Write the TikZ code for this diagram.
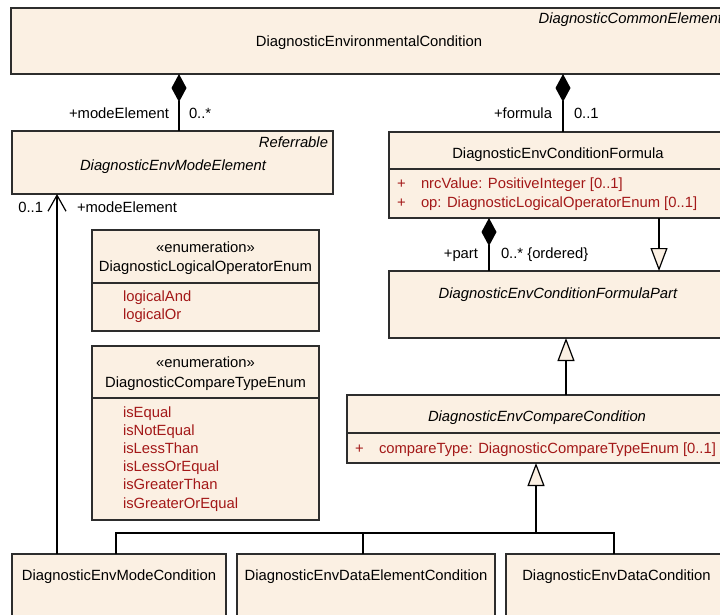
\documentclass[tikz,border=0pt]{standalone}
\usepackage{fontspec}
\setmainfont{Liberation Sans}
\usetikzlibrary{arrows.meta}
\definecolor{umlfill}{RGB}{251,240,227}
\definecolor{umlline}{RGB}{45,45,45}
\definecolor{attrred}{RGB}{163,24,24}
\tikzset{
  umlbox/.style={draw=umlline, fill=umlfill, line width=1.3pt, inner sep=0pt, outer sep=0pt, anchor=north west},
  sepline/.style={draw=umlline, line width=1.3pt},
  lbl/.style={font=\fontsize{14.8}{18}\selectfont, inner sep=0pt, outer sep=0pt, text=black, anchor=base},
  lblw/.style={lbl, anchor=base west},
  lble/.style={lbl, anchor=base east},
  attr/.style={lblw, text=attrred},
  conn/.style={draw=black, line width=1.2pt},
  compo/.style={conn, {Diamond[length=28pt,width=15pt,fill=black]}-},
  assoc/.style={conn, -{Straight Barb[length=16pt,width=18pt]}},
  gener/.style={conn, -{Triangle[length=23pt,width=17pt,fill=umlfill]}},
}
\begin{document}
\begin{tikzpicture}[x=1pt,y=-1pt]
\useasboundingbox (0,0) rectangle (720,615);
\clip (0,0) rectangle (720,615);
% boxes
\node[umlbox, minimum width=716pt, minimum height=66pt] (envcond) at (11,8) {};
\node[umlbox, minimum width=321pt, minimum height=63pt] (modeelem) at (12,131) {};
\node[umlbox, minimum width=227pt, minimum height=101pt] (enumlog) at (92,230) {};
\node[umlbox, minimum width=227pt, minimum height=174pt] (enumcmp) at (92,346) {};
\node[umlbox, minimum width=338pt, minimum height=86pt] (formula) at (389,132) {};
\node[umlbox, minimum width=338pt, minimum height=67pt] (fpart) at (389,271) {};
\node[umlbox, minimum width=380pt, minimum height=68pt] (cmpcond) at (347,395) {};
\node[umlbox, minimum width=214pt, minimum height=75pt] (modecond) at (12,554) {};
\node[umlbox, minimum width=258pt, minimum height=75pt] (dataelem) at (237,554) {};
\node[umlbox, minimum width=221pt, minimum height=75pt] (datacond) at (506,554) {};
% separators
\draw[sepline] ([yshift=-53pt]enumlog.north west) -- ([yshift=-53pt]enumlog.north east);
\draw[sepline] ([yshift=-52pt]enumcmp.north west) -- ([yshift=-52pt]enumcmp.north east);
\draw[sepline] ([yshift=-37pt]formula.north west) -- ([yshift=-37pt]formula.north east);
\draw[sepline] ([yshift=-38pt]cmpcond.north west) -- ([yshift=-38pt]cmpcond.north east);
% texts
\node[lble, font=\fontsize{14.8}{18}\selectfont\itshape] (envst) at (722,24) {DiagnosticCommonElement};
\node[lbl] (envname) at (369,47) {DiagnosticEnvironmentalCondition};
\node[lble, font=\fontsize{14.8}{18}\selectfont\itshape] (modest) at (328,148) {Referrable};
\node[lbl, font=\fontsize{14.8}{18}\selectfont\itshape] (modename) at (173,171) {DiagnosticEnvModeElement};
\node[lbl] (logst) at (205.5,252) {«enumeration»};
\node[lbl] (logname) at (205.5,271) {DiagnosticLogicalOperatorEnum};
\node[attr] (logA) at (123,301) {logicalAnd};
\node[attr] (logB) at (123,319) {logicalOr};
\node[lbl] (cmpst) at (205.5,367) {«enumeration»};
\node[lbl] (cmpname) at (205.5,387) {DiagnosticCompareTypeEnum};
\node[attr] (cmpA) at (123,417) {isEqual};
\node[attr] (cmpB) at (123,435.2) {isNotEqual};
\node[attr] (cmpC) at (123,453.4) {isLessThan};
\node[attr] (cmpD) at (123,471.6) {isLessOrEqual};
\node[attr] (cmpE) at (123,489.8) {isGreaterThan};
\node[attr] (cmpF) at (123,508) {isGreaterOrEqual};
\node[lbl] (formname) at (558,158) {DiagnosticEnvConditionFormula};
\node[attr] (formp1) at (397,188) {+};
\node[attr] (forma1) at (421,188) {nrcValue: PositiveInteger [0..1]};
\node[attr] (formp2) at (397,207) {+};
\node[attr] (forma2) at (421,207) {op: DiagnosticLogicalOperatorEnum [0..1]};
\node[lbl, font=\fontsize{14.8}{18}\selectfont\itshape] (fpartname) at (558,298) {DiagnosticEnvConditionFormulaPart};
\node[lbl, font=\fontsize{14.8}{18}\selectfont\itshape] (cmpcname) at (537,421) {DiagnosticEnvCompareCondition};
\node[attr] (cmpcp) at (355,453) {+};
\node[attr] (cmpca) at (379,453) {compareType: DiagnosticCompareTypeEnum [0..1]};
\node[lbl] (modecname) at (119,580) {DiagnosticEnvModeCondition};
\node[lbl] (dataename) at (366,580) {DiagnosticEnvDataElementCondition};
\node[lbl] (datacname) at (616.5,580) {DiagnosticEnvDataCondition};
% connector labels
\node[lble] (l1a) at (169,119) {+modeElement};
\node[lblw] (l1b) at (189,119) {0..*};
\node[lble] (l2a) at (552,119) {+formula};
\node[lblw] (l2b) at (574,119) {0..1};
\node[lble] (l3a) at (43,212) {0..1};
\node[lblw] (l3b) at (77,212) {+modeElement};
\node[lble] (l4a) at (478,258) {+part};
\node[lblw] (l4b) at (501,258) {0..* \{ordered\}};
% connectors
\draw[compo] ([xshift=-190pt]envcond.south) -- ([xshift=6.5pt]modeelem.north);
\draw[compo] ([xshift=194pt]envcond.south) -- ([xshift=5pt]formula.north);
\draw[assoc] ([xshift=-62pt]modecond.north) -- ([xshift=-115.5pt]modeelem.south);
\draw[compo] ([xshift=-69pt]formula.south) -- ([xshift=-69pt]fpart.north);
\draw[gener] ([xshift=101pt]formula.south) -- ([xshift=101pt]fpart.north);
\draw[gener] ([xshift=29pt]cmpcond.north) -- ([xshift=8pt]fpart.south);
\coordinate (tj) at ([xshift=-1pt,yshift=-70pt]cmpcond.south);
\draw[conn] ([xshift=-3pt]modecond.north) |- (tj);
\draw[conn] ([xshift=-3pt]dataelem.north) |- (tj);
\draw[conn] ([xshift=-2.5pt]datacond.north) |- (tj);
\draw[gener] (tj) -- ([xshift=-1pt]cmpcond.south);
\end{tikzpicture}
\end{document}
